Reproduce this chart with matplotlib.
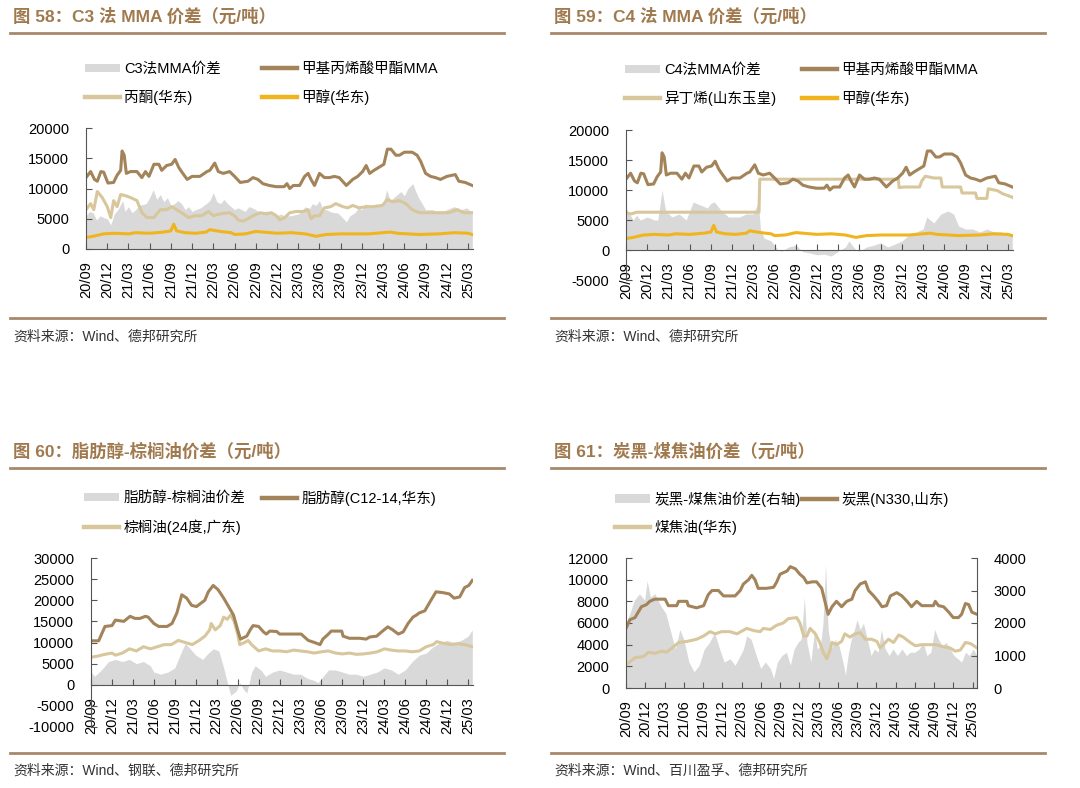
import numpy as np
import matplotlib
matplotlib.use("Agg")
import matplotlib.pyplot as plt
from matplotlib.patches import Patch
from matplotlib.lines import Line2D

plt.rcParams["font.family"] = ["Liberation Sans", "Noto Sans CJK SC"]
plt.rcParams["axes.unicode_minus"] = False

# x = months since 2020-09
tick_pos = list(range(0, 55, 3))
tick_labels = ["20/09", "20/12", "21/03", "21/06", "21/09", "21/12", "22/03", "22/06", "22/09", "22/12",
               "23/03", "23/06", "23/09", "23/12", "24/03", "24/06", "24/09", "24/12", "25/03"]

# 甲基丙烯酸甲酯MMA (fig 58 & 59)
mma = [(0, 11800), (0.65, 12800), (1.2, 11500), (1.6, 11200), (2.1, 12800), (2.5, 12700), (3.1, 10900),
       (3.9, 11000), (4.4, 12200), (4.9, 13000), (5.1, 16200), (5.4, 15500), (5.7, 12500), (6.3, 12800),
       (7.2, 12800), (7.9, 11800), (8.4, 12800), (8.9, 12000), (9.6, 14000), (10.3, 14000), (10.7, 13000),
       (11.4, 13800), (12.1, 14000), (12.6, 14800), (13.1, 13500), (13.5, 12800), (14.3, 11500), (15.0, 12000),
       (16.1, 12000), (17.1, 12800), (17.5, 13000), (18.2, 14200), (18.7, 12800), (19.4, 12500), (20.3, 12800),
       (21.0, 12000), (21.8, 11000), (22.9, 11200), (23.6, 11800), (24.3, 11500), (25.0, 10800), (25.9, 10500),
       (26.9, 10300), (28.0, 10300), (28.4, 10800), (28.8, 10000), (29.3, 10500), (30.2, 10500), (30.9, 12000),
       (31.4, 12500), (31.8, 11500), (32.3, 10500), (33.0, 12500), (33.7, 11800), (34.4, 11800), (35.1, 12000),
       (35.8, 11800), (36.8, 10500), (37.7, 11500), (38.4, 12000), (39.1, 12800), (39.6, 13800), (40.1, 12500),
       (40.7, 13000), (41.4, 13500), (42.1, 14000), (42.6, 16500), (43.1, 16500), (43.8, 15500), (44.3, 15500),
       (45.0, 16000), (46.1, 16000), (46.8, 15500), (47.3, 14500), (48.0, 12500), (48.7, 12000), (49.4, 11800),
       (50.1, 11500), (51.0, 12000), (51.8, 12200), (52.2, 12300), (52.7, 11200), (53.6, 11000), (54.6, 10500)]

# 甲醇(华东)
methanol = [(0, 1900), (1, 2100), (2.5, 2500), (4, 2600), (6, 2500), (7, 2700), (9, 2600), (11, 2800), (12, 3000),
            (12.4, 4100), (12.8, 3000), (14, 2700), (15.5, 2600), (17, 2800), (17.5, 3200), (19, 2900),
            (20.5, 2700), (21, 2400), (22.5, 2500), (24, 2900), (25, 2800), (27, 2600), (29, 2700), (31, 2500),
            (32.5, 2100), (34, 2400), (36, 2500), (40, 2500), (43, 2800), (44, 2600), (47, 2400), (50, 2500),
            (52, 2700), (54, 2600), (54.6, 2400)]

# 丙酮(华东)
acetone = [(0, 6500), (0.65, 7500), (1.1, 6500), (1.6, 9500), (2.3, 8500), (3.0, 7000), (3.5, 5200), (3.9, 8000),
           (4.4, 7000), (4.9, 9000), (5.6, 8800), (6.3, 8500), (7.2, 8000), (7.9, 6000), (8.6, 5200), (9.6, 5200),
           (10.5, 6500), (11.4, 6500), (12.1, 7000), (12.8, 6500), (13.5, 6000), (14.5, 5200), (15.4, 5500),
           (16.4, 5500), (17.3, 6200), (18.0, 5500), (18.9, 5800), (20.3, 6000), (21.0, 5500), (21.5, 4800),
           (22.2, 4600), (22.9, 5000), (23.6, 5500), (24.6, 6000), (25.5, 5800), (26.2, 6000), (26.9, 5500),
           (27.4, 4800), (28.1, 5200), (28.8, 6000), (29.7, 6200), (30.7, 6200), (31.4, 6500), (31.8, 5000),
           (32.3, 5500), (33.0, 5500), (33.7, 6800), (34.6, 7000), (35.3, 7500), (36.3, 7000), (37.0, 6800),
           (37.7, 7200), (38.6, 6800), (39.6, 7000), (40.5, 7000), (41.9, 7200), (42.6, 8200), (43.3, 7800),
           (44.3, 8000), (45.2, 7500), (46.1, 6500), (47.1, 6000), (48.5, 6000), (49.9, 6000), (51.3, 6000),
           (52.5, 6500), (53.4, 6000), (54.6, 6000)]

# C3法MMA价差
c3_spread = [(0, 5500), (0.5, 6200), (1, 6000), (1.5, 4800), (2, 5500), (2.5, 5200), (3, 5000), (3.5, 4000),
             (4, 5800), (4.5, 6500), (5.2, 8000), (5.5, 6200), (6, 7000), (6.5, 6000), (7, 6500), (7.5, 7200),
             (8.5, 7500), (9, 8500), (9.5, 9800), (10, 8200), (10.5, 9000), (11, 7800), (11.5, 8500), (12, 7200),
             (12.5, 7500), (13, 8000), (13.5, 7500), (14, 6500), (14.5, 7000), (15, 6200), (15.5, 6500),
             (16.2, 6800), (17, 7500), (17.5, 8000), (18, 9300), (18.5, 7800), (19, 7500), (19.5, 8200), (20, 7500),
             (20.5, 7000), (21, 6500), (21.5, 6800), (22, 6500), (22.5, 6200), (23, 7000), (23.5, 6800), (24, 6500),
             (24.5, 6000), (25, 6000), (25.5, 6300), (26, 6000), (26.5, 5800), (27, 5500), (27.5, 5800), (28, 5500),
             (29, 5500), (30, 5800), (30.5, 6300), (31, 7000), (31.5, 6500), (32, 7500), (32.5, 7200), (33, 8000),
             (33.5, 6500), (34, 6500), (34.5, 6200), (35, 6000), (35.5, 6000), (36, 5500), (36.8, 4500),
             (37.3, 5500), (38, 6000), (38.5, 6800), (39, 6500), (39.5, 7500), (40, 7000), (41, 7000), (41.5, 7500),
             (42, 7500), (42.5, 9800), (43, 8000), (43.5, 8500), (44, 9000), (44.5, 9500), (45, 8800), (45.5, 10000),
             (46.2, 10800), (46.6, 9500), (47, 8500), (47.5, 7500), (48, 6500), (49, 6500), (50, 6000), (51, 6500),
             (52, 7000), (53, 6500), (53.8, 6800), (54.6, 6000)]

# 异丁烯(山东玉皇)
isobutylene = [(0, 6200), (0.7, 6000), (1.5, 6300), (18.8, 6300), (18.9, 11800), (38.5, 11800), (38.6, 10400),
               (39.3, 10500), (41.5, 10500), (41.8, 11500), (42.3, 12300), (43.5, 12000), (44.5, 12000),
               (44.7, 10500), (47.3, 10500), (47.5, 9500), (49.4, 9500), (49.6, 8600), (51.0, 8600), (51.2, 10200),
               (52.5, 9900), (53.2, 9400), (54.6, 8800)]

# C4法MMA价差
c4_spread = [(0, 7000), (0.5, 6000), (1, 5000), (1.5, 5800), (2, 5000), (3, 5500), (4, 5000), (4.5, 5000),
             (5.1, 10000), (5.6, 6500), (6.5, 5500), (7.5, 6000), (8.5, 5000), (9, 6500), (9.5, 8000), (10.5, 7500),
             (11.5, 7000), (12, 7800), (12.5, 8000), (13.5, 6500), (14.5, 5500), (16, 5500), (17, 6000), (18, 6000),
             (18.7, 8000), (19, 3500), (19.5, 2000), (20.5, 1500), (21.5, 0), (22, -200), (23, 500), (24, 800),
             (25, -300), (26, -500), (27, -800), (28, -700), (29, -1000), (30, -200), (31, 500), (31.5, 1500),
             (32.5, 0), (33, -200), (34, 500), (35, 800), (36, 1200), (37, 500), (38, 1000), (39, 1500),
             (40, 2500), (41, 3000), (42, 3500), (42.5, 5500), (43.5, 4500), (44.5, 6000), (45.5, 6500),
             (46.3, 6000), (47, 4000), (48, 3500), (49, 3500), (50, 3000), (51, 3500), (52, 3000), (53, 3000),
             (54.6, 2500)]

# 脂肪醇(C12-14,华东)
fatty_alcohol = [(0, 10400), (1.1, 10400), (2.0, 13800), (3.0, 14000), (3.5, 15300), (4.7, 15000), (5.6, 16200),
                 (6.3, 15700), (7.0, 15700), (7.8, 16200), (8.2, 16000), (9.0, 14500), (9.7, 13800), (10.9, 13800),
                 (11.6, 14500), (12.3, 17000), (13.0, 21300), (13.7, 20500), (14.4, 18800), (15.1, 18500),
                 (15.9, 19500), (16.3, 20000), (16.8, 22000), (17.5, 23500), (18.2, 22500), (19.0, 20500),
                 (19.7, 18500), (20.4, 16500), (21.0, 13000), (21.4, 10800), (22.3, 11500), (22.8, 13000),
                 (23.2, 14000), (24.0, 13800), (24.7, 12500), (25.1, 12000), (25.6, 12700), (26.6, 12600),
                 (27.0, 12000), (28.5, 12000), (30.1, 12000), (31.1, 10500), (32.0, 10000), (32.8, 9500),
                 (33.2, 10800), (34.0, 12000), (34.4, 12700), (35.9, 12700), (36.1, 11500), (37.0, 11000),
                 (38.5, 11000), (39.4, 10800), (39.9, 11300), (40.9, 11500), (41.6, 12500), (42.5, 13700),
                 (43.2, 13000), (44.0, 12000), (44.7, 12500), (45.4, 14500), (46.1, 16000), (46.6, 16500),
                 (47.0, 17000), (47.8, 17500), (48.5, 19500), (49.4, 22000), (50.4, 21800), (51.3, 21500),
                 (52.0, 20500), (52.8, 20800), (53.5, 23000), (54.1, 23500), (54.6, 24700)]

# 棕榈油(24度,广东)
palm_oil = [(0, 6500), (1, 6800), (2, 7200), (3, 7500), (3.5, 7000), (4.5, 7500), (5.5, 8500), (6.5, 8000),
            (7.5, 9000), (8.5, 8500), (9.5, 9000), (10.5, 9500), (11.5, 9500), (12.5, 10500), (13.5, 10000),
            (14.5, 9500), (15.5, 10500), (16.3, 11500), (17.0, 13000), (17.2, 14500), (17.8, 13000), (18.5, 14000),
            (19.0, 16000), (19.5, 15500), (20.0, 16500), (20.5, 15000), (21.0, 12000), (21.3, 9500), (22.0, 10000),
            (22.5, 10500), (23.0, 9500), (24.0, 8000), (25.0, 8500), (26.0, 8000), (27.0, 8000), (28.0, 7800),
            (29.0, 8200), (30.0, 8000), (31.0, 7800), (32.0, 7500), (33.0, 7800), (34.0, 8000), (35.0, 7500),
            (36.0, 7300), (37.0, 7500), (38.0, 7200), (39.0, 7300), (40.0, 7500), (41.0, 7800), (42.0, 8500),
            (43.0, 8200), (44.0, 8000), (45.0, 8000), (46.0, 7800), (47.0, 8000), (48.0, 9000), (49.0, 9500),
            (49.5, 10200), (50.5, 9800), (51.5, 9500), (52.5, 9700), (53.5, 9500), (54.6, 9000)]

# 脂肪醇-棕榈油价差
fa_spread = [(0, 3000), (0.5, 2000), (1.5, 3500), (2.5, 5500), (3.5, 6000), (4.5, 5500), (5.5, 6000), (6.5, 5000),
             (7.5, 5500), (8.5, 4500), (9, 3000), (10, 2500), (11, 3000), (12, 4000), (13, 8000), (13.5, 9800),
             (14.2, 8500), (15, 7000), (16, 6000), (16.8, 7500), (17.5, 8500), (18.3, 8000), (19, 4000), (19.6, 0),
             (20, -2500), (20.8, -1500), (21.3, 500), (21.8, -1000), (22.3, -2000), (23.0, 3000), (23.5, 4500),
             (24.3, 3500), (25, 2000), (26, 3000), (27, 3500), (28, 3000), (29, 2500), (30, 2500), (31, 1500),
             (32, 1000), (32.5, 500), (33, 1500), (34, 3500), (35, 3500), (36, 3000), (37, 2500), (38, 2500),
             (39, 2000), (40, 2500), (41, 3000), (42, 4000), (43, 3500), (44, 2500), (45, 3500), (46, 5500),
             (47, 7000), (48, 7500), (49, 9000), (50, 10000), (51, 10500), (52, 10000), (53, 10500), (54, 11500),
             (54.6, 13000)]

# 炭黑(N330,山东)
carbon_black = [(0, 5500), (0.6, 6300), (1.4, 6500), (1.9, 7000), (2.4, 7500), (3.2, 7700), (3.7, 8000),
                (4.5, 8200), (6.1, 8200), (6.6, 7600), (7.9, 7600), (8.2, 8000), (9.5, 8000), (9.7, 7600),
                (11.0, 7400), (12.1, 7600), (12.8, 8600), (13.4, 9000), (14.4, 9000), (15.2, 8500), (17.0, 8500),
                (17.8, 9000), (18.3, 9600), (19.1, 10000), (19.6, 10400), (20.1, 10000), (20.6, 9200), (21.9, 9200),
                (23.0, 9300), (23.5, 9800), (24.0, 10500), (25.1, 10800), (25.6, 11200), (26.4, 11000),
                (27.1, 10500), (27.7, 10200), (28.2, 9700), (29.0, 9800), (29.7, 9800), (30.5, 9200), (31.0, 8000),
                (31.5, 6800), (32.1, 7500), (32.8, 8000), (33.6, 7500), (34.4, 8000), (35.2, 8200), (35.7, 9000),
                (36.5, 9600), (37.3, 9800), (37.8, 9000), (38.6, 8500), (39.3, 8000), (39.9, 7500), (40.6, 7600),
                (41.2, 8500), (42.2, 8800), (43.0, 8500), (43.8, 8000), (44.5, 7500), (45.3, 8000), (46.1, 7600),
                (47.9, 7600), (48.2, 8000), (48.7, 7600), (49.5, 7500), (50.3, 7000), (51.0, 6500), (51.8, 6500),
                (52.3, 6800), (52.9, 7800), (53.4, 7700), (53.9, 7000), (54.7, 6800)]

# 煤焦油(华东)
coal_tar = [(0, 2150), (1.4, 2800), (2.7, 2900), (3.5, 3300), (4.5, 3200), (5.6, 3400), (6.3, 3300), (7.4, 3800),
            (8.2, 4200), (9.5, 4300), (11.0, 4500), (12.1, 4800), (13.1, 5200), (13.9, 5000), (14.9, 5200),
            (16.2, 5200), (17.3, 5000), (18.8, 5500), (19.9, 5300), (20.9, 5200), (21.4, 5500), (22.5, 5400),
            (23.5, 5800), (24.5, 6000), (25.3, 6400), (26.6, 6500), (27.1, 6000), (27.7, 4800), (28.2, 4800),
            (28.7, 5500), (29.5, 5000), (30.2, 4200), (30.8, 3200), (31.3, 2700), (31.8, 3500), (32.1, 4200),
            (32.8, 4000), (33.6, 4300), (34.1, 5000), (34.9, 4700), (35.7, 5000), (36.5, 5100), (37.3, 4500),
            (38.3, 4500), (39.1, 4300), (39.6, 3700), (40.1, 4000), (40.9, 4500), (41.7, 4200), (42.5, 4900),
            (43.2, 4700), (44.3, 4200), (45.1, 3900), (46.1, 4000), (47.4, 4000), (48.2, 4000), (49.5, 3800),
            (50.5, 3700), (51.3, 3400), (52.1, 3500), (52.9, 4200), (53.7, 4100), (54.7, 3700)]

# 炭黑-煤焦油价差(右轴)
cb_spread = [(0, 2000), (0.6, 2300), (1.3, 2700), (2.1, 2900), (2.9, 2700), (3.3, 3300), (3.8, 2800), (4.5, 2900),
             (5.5, 2500), (6.2, 2300), (7.0, 1700), (7.7, 1200), (8.4, 1800), (9.0, 1500), (9.8, 800), (10.6, 500),
             (11.4, 700), (12.2, 1200), (13.0, 1400), (13.8, 1700), (14.6, 1200), (15.3, 800), (16.2, 900),
             (17.0, 700), (17.8, 1000), (18.3, 1200), (18.8, 1600), (19.5, 1500), (20.3, 1000), (21.0, 600),
             (21.7, 800), (22.5, 600), (23.0, 300), (23.6, 800), (24.3, 1000), (25.0, 1100), (25.6, 700),
             (26.2, 1200), (26.8, 1400), (27.3, 1500), (27.8, 2800), (28.2, 1400), (28.8, 800), (29.4, 1800),
             (29.8, 1200), (30.3, 1300), (30.7, 2000), (31.1, 3800), (31.5, 1800), (32.0, 1200), (32.6, 1500),
             (33.2, 1300), (33.8, 800), (34.2, 400), (34.6, 1000), (35.1, 1500), (35.6, 1800), (36.0, 2100),
             (36.5, 1800), (37.0, 2000), (37.6, 1500), (38.2, 1000), (38.7, 1200), (39.3, 1100), (39.8, 1800),
             (40.4, 1200), (41.0, 1000), (41.6, 1200), (42.3, 1000), (43.0, 1200), (43.7, 1000), (44.3, 1100),
             (45.0, 1100), (45.7, 1200), (46.3, 1400), (46.9, 1000), (47.5, 1100), (48.1, 1800), (48.7, 1500),
             (49.3, 1300), (49.9, 1400), (50.5, 1200), (51.1, 1000), (51.7, 900), (52.3, 800), (52.9, 1100),
             (53.5, 1000), (54.1, 1200), (54.7, 1000)]

BROWN = "#A3845A"
TAN = "#D8C79C"
YELLOW = "#F0B51E"
GREY = "#D9D9D9"
HEAD = "#A07A4E"
RULE = "#A8896A"
AXC = "#555555"

W, H = 1080, 788
fig = plt.figure(figsize=(10.8, 7.88), dpi=100)


def xy(pairs):
    a = np.array(pairs, dtype=float)
    return a[:, 0], a[:, 1]


def fx(x):
    return x / W


def fy(y):
    return 1 - y / H


def add_axes(l, t, r, b):
    return fig.add_axes([fx(l), fy(b), (r - l) / W, (b - t) / H])


def header(x0, x1, y_title, y_rule1, y_rule2, y_src, title, src):
    fig.text(fx(x0 + 3), fy(y_title), title, color=HEAD, fontsize=12.5, fontweight="bold", va="center")
    for yy in (y_rule1, y_rule2):
        fig.add_artist(Line2D([fx(x0), fx(x1)], [fy(yy), fy(yy)], color=RULE, lw=2))
    fig.text(fx(x0 + 3), fy(y_src), src, color="#333333", fontsize=10, va="center")


def leg(handle, label, x, y):
    fig.legend([handle], [label], loc="center left", bbox_to_anchor=(fx(x), fy(y)), frameon=False,
               fontsize=10.5, handlelength=2.4, handleheight=0.5, handletextpad=0.3,
               borderpad=0, borderaxespad=0)


def style(ax, ylim, yticks, xmax=54.7):
    ax.spines["bottom"].set_position(("data", 0))
    ax.spines["top"].set_visible(False)
    ax.spines["right"].set_visible(False)
    for s in ("left", "bottom"):
        ax.spines[s].set_color(AXC)
        ax.spines[s].set_linewidth(0.8)
    ax.set_xlim(0, xmax)
    ax.set_ylim(*ylim)
    ax.set_yticks(list(yticks))
    ax.set_xticks(tick_pos)
    ax.set_xticklabels(tick_labels)
    ax.tick_params(direction="in", length=4, width=0.8, color=AXC, labelsize=10.5)
    ax.tick_params(axis="y", pad=12)
    ax.tick_params(axis="x", pad=9, labelrotation=90)


def area_h():
    return Patch(facecolor=GREY, edgecolor="none")


def ln(c):
    return Line2D([], [], color=c, lw=3.2)


# ---- 图58 ----
ax1 = add_axes(86, 128, 473, 249)
t, v = xy(c3_spread)
ax1.fill_between(t, 0, v, color=GREY, lw=0)
t, v = xy(acetone)
ax1.plot(t, v, color=TAN, lw=2.2)
t, v = xy(methanol)
ax1.plot(t, v, color=YELLOW, lw=2.2)
t, v = xy(mma)
ax1.plot(t, v, color=BROWN, lw=2.2)
style(ax1, (0, 20000), range(0, 20001, 5000))
header(10, 504, 16, 33, 318, 337, "图 58：C3 法 MMA 价差（元/吨）", "资料来源：Wind、德邦研究所")
leg(area_h(), "C3法MMA价差", 85, 69)
leg(ln(BROWN), "甲基丙烯酸甲酯MMA", 262, 69)
leg(ln(TAN), "丙酮(华东)", 85, 97)
leg(ln(YELLOW), "甲醇(华东)", 262, 97)

# ---- 图59 ----
ax2 = add_axes(626, 130, 1013, 280)
t, v = xy(c4_spread)
ax2.fill_between(t, 0, v, color=GREY, lw=0)
t, v = xy(isobutylene)
ax2.plot(t, v, color=TAN, lw=2.2)
t, v = xy(methanol)
ax2.plot(t, v, color=YELLOW, lw=2.2)
t, v = xy(mma)
ax2.plot(t, v, color=BROWN, lw=2.2)
style(ax2, (-5000, 20000), range(-5000, 20001, 5000))
header(551, 1045, 16, 33, 318, 337, "图 59：C4 法 MMA 价差（元/吨）", "资料来源：Wind、德邦研究所")
leg(area_h(), "C4法MMA价差", 625, 70)
leg(ln(BROWN), "甲基丙烯酸甲酯MMA", 802, 70)
leg(ln(TAN), "异丁烯(山东玉皇)", 625, 98)
leg(ln(YELLOW), "甲醇(华东)", 802, 98)

# ---- 图60 ----
ax3 = add_axes(91, 558, 473, 727)
t, v = xy(fa_spread)
ax3.fill_between(t, 0, v, color=GREY, lw=0)
t, v = xy(palm_oil)
ax3.plot(t, v, color=TAN, lw=2.2)
t, v = xy(fatty_alcohol)
ax3.plot(t, v, color=BROWN, lw=2.2)
style(ax3, (-10000, 30000), range(-10000, 30001, 5000))
header(10, 504, 451, 468, 753, 771, "图 60：脂肪醇-棕榈油价差（元/吨）", "资料来源：Wind、钢联、德邦研究所")
leg(area_h(), "脂肪醇-棕榈油价差", 84, 498)
leg(ln(BROWN), "脂肪醇(C12-14,华东)", 262, 498)
leg(ln(TAN), "棕榈油(24度,广东)", 84, 527)

# ---- 图61 ----
ax4 = add_axes(626, 558, 977, 688)
ax4r = ax4.twinx()
t, v = xy(cb_spread)
ax4r.fill_between(t, 0, v, color=GREY, lw=0)
ax4r.set_ylim(0, 4000)
ax4r.set_yticks(range(0, 4001, 1000))
ax4.set_zorder(ax4r.get_zorder() + 1)
ax4.patch.set_visible(False)
t, v = xy(coal_tar)
ax4.plot(t, v, color=TAN, lw=2.2)
t, v = xy(carbon_black)
ax4.plot(t, v, color=BROWN, lw=2.2)
style(ax4, (0, 12000), range(0, 12001, 2000))
for s in ("top", "left", "bottom"):
    ax4r.spines[s].set_visible(False)
ax4r.spines["right"].set_color(AXC)
ax4r.spines["right"].set_linewidth(0.8)
ax4r.tick_params(direction="in", length=4, width=0.8, color=AXC, labelsize=10.5, pad=12)
header(551, 1045, 451, 468, 753, 771, "图 61：炭黑-煤焦油价差（元/吨）", "资料来源：Wind、百川盈孚、德邦研究所")
leg(area_h(), "炭黑-煤焦油价差(右轴)", 615, 499)
leg(ln(BROWN), "炭黑(N330,山东)", 802, 499)
leg(ln(TAN), "煤焦油(华东)", 615, 527)

fig.savefig("out.png", dpi=100, facecolor="white")
